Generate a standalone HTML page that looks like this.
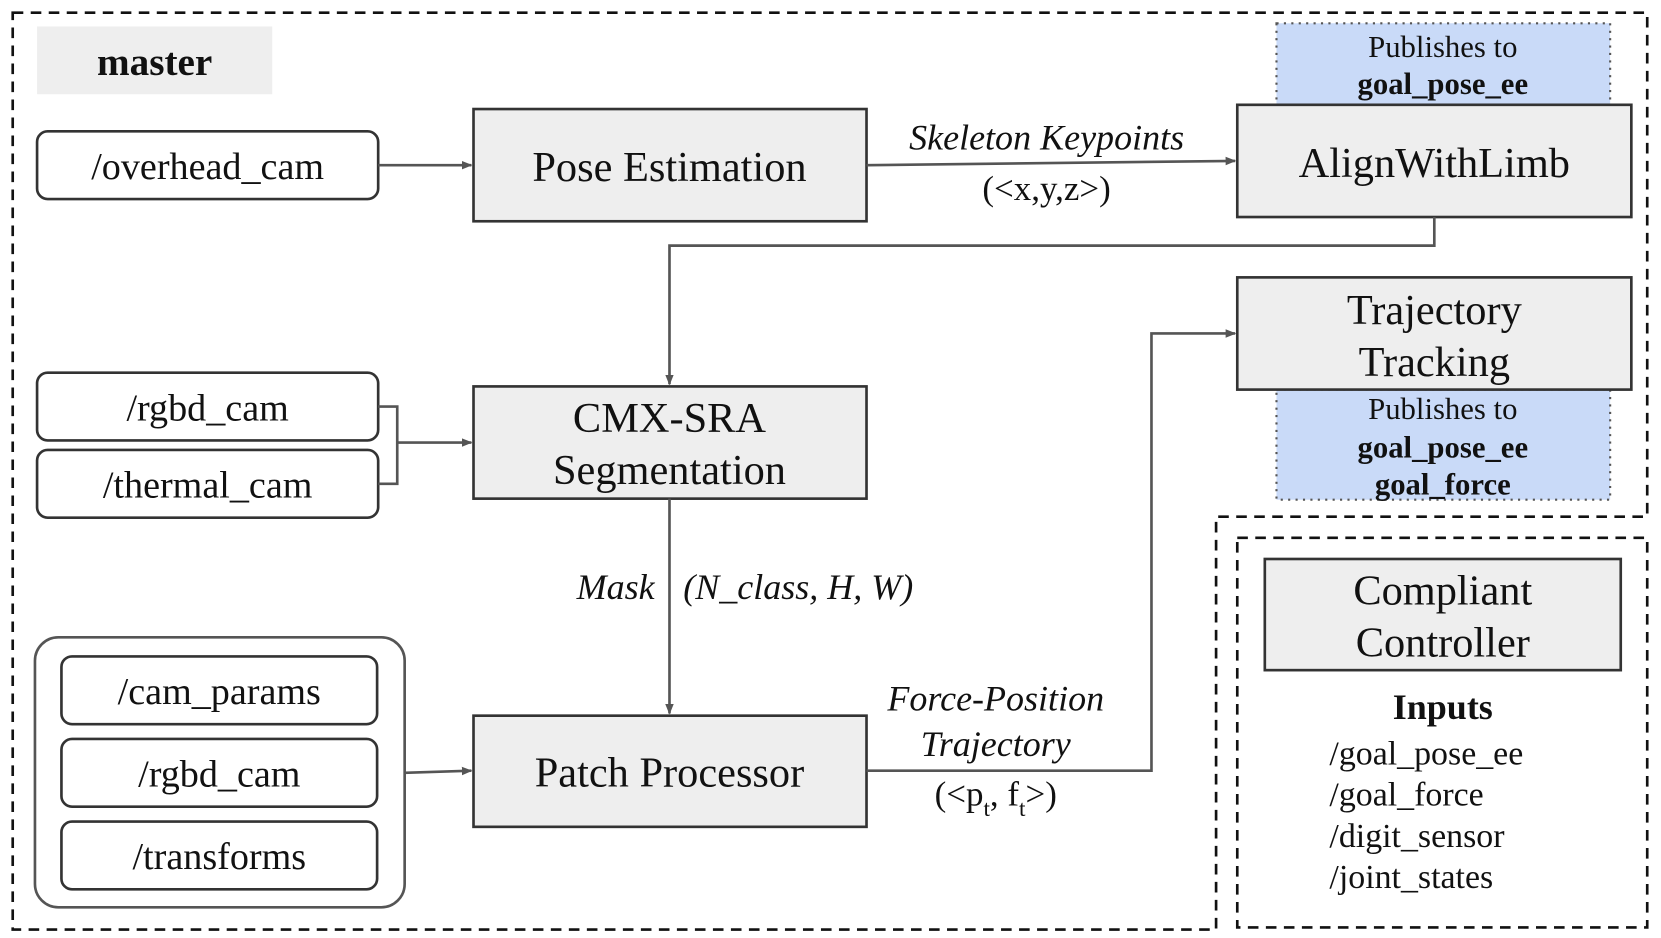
<!DOCTYPE html>
<html><head><meta charset="utf-8"><style>
html,body{margin:0;padding:0;background:#fff;}
svg{display:block;}
text{font-family:"Liberation Serif",serif;fill:#111;}
</style></head><body>
<svg width="1661" height="938" viewBox="0 0 1568 886" preserveAspectRatio="none" xmlns="http://www.w3.org/2000/svg">
<defs>
<marker id="ah" markerWidth="10" markerHeight="10" refX="9" refY="5" orient="auto" markerUnits="userSpaceOnUse">
<path d="M0,1 L10,5 L0,9 Z" fill="#555"/></marker>
</defs>
<path d="M12,12 L1555,12 L1555,488 L1148,488 L1148,878 L12,878 Z" fill="none" stroke="#111" stroke-width="2.5" stroke-dasharray="10,7"/>
<rect x="1168" y="508" width="387" height="368" fill="none" stroke="#111" stroke-width="2.5" stroke-dasharray="10,7"/>
<rect x="35" y="25" width="222" height="64" fill="#eee"/>
<text x="146" y="71" font-size="37" font-weight="bold" text-anchor="middle">master</text>

<rect x="1205" y="22" width="315" height="78" fill="#c9daf8" stroke="#555" stroke-width="2" stroke-dasharray="2,5"/>
<text x="1362" y="54" font-size="29" text-anchor="middle">Publishes to</text>
<text x="1362" y="89" font-size="29" font-weight="bold" text-anchor="middle">goal_pose_ee</text>
<rect x="1205" y="368" width="315" height="104" fill="#c9daf8" stroke="#555" stroke-width="2" stroke-dasharray="2,5"/>
<text x="1362" y="396" font-size="29" text-anchor="middle">Publishes to</text>
<text x="1362" y="432" font-size="29" font-weight="bold" text-anchor="middle">goal_pose_ee</text>
<text x="1362" y="467" font-size="29" font-weight="bold" text-anchor="middle">goal_force</text>

<g fill="#eee" stroke="#333" stroke-width="2.5">
<rect x="447" y="103" width="371" height="106"/>
<rect x="1168" y="99" width="372" height="106"/>
<rect x="447" y="365" width="371" height="106"/>
<rect x="1168" y="262" width="372" height="106"/>
<rect x="447" y="676" width="371" height="105"/>
<rect x="1194" y="528" width="336" height="105"/>
</g>
<g fill="#fff" stroke="#333" stroke-width="2.5">
<rect x="35" y="124" width="322" height="64" rx="10"/>
<rect x="35" y="352" width="322" height="64" rx="10"/>
<rect x="35" y="425" width="322" height="64" rx="10"/>
<rect x="33" y="602" width="349" height="255" rx="22" stroke="#555"/>
<rect x="58" y="620" width="298" height="64" rx="10"/>
<rect x="58" y="698" width="298" height="64" rx="10"/>
<rect x="58" y="776" width="298" height="64" rx="10"/>
</g>

<g font-size="40" text-anchor="middle">
<text x="632" y="171">Pose Estimation</text>
<text x="1354" y="167">AlignWithLimb</text>
<text x="632" y="408">CMX-SRA</text>
<text x="632" y="457">Segmentation</text>
<text x="1354" y="306">Trajectory</text>
<text x="1354" y="355">Tracking</text>
<text x="632" y="743">Patch Processor</text>
<text x="1362" y="571">Compliant</text>
<text x="1362" y="620">Controller</text>
</g>
<g font-size="36" text-anchor="middle">
<text x="196" y="169">/overhead_cam</text>
<text x="196" y="397">/rgbd_cam</text>
<text x="196" y="470">/thermal_cam</text>
<text x="207" y="665">/cam_params</text>
<text x="207" y="743">/rgbd_cam</text>
<text x="207" y="821">/transforms</text>
</g>
<text x="1362" y="679" font-size="34" font-weight="bold" text-anchor="middle">Inputs</text>
<g font-size="32">
<text x="1255" y="722">/goal_pose_ee</text>
<text x="1255" y="761">/goal_force</text>
<text x="1255" y="800">/digit_sensor</text>
<text x="1255" y="839">/joint_states</text>
</g>

<g fill="none" stroke="#555" stroke-width="2.5">
<path d="M357,156 L445,156" marker-end="url(#ah)"/>
<path d="M818,156 L1166,152" marker-end="url(#ah)"/>
<path d="M1354,205 L1354,232 L632,232 L632,363" marker-end="url(#ah)"/>
<path d="M357,384 L375,384 L375,457 L357,457"/>
<path d="M375,418 L445,418" marker-end="url(#ah)"/>
<path d="M632,471 L632,674" marker-end="url(#ah)"/>
<path d="M382,730 L445,728" marker-end="url(#ah)"/>
<path d="M818,728 L1087,728 L1087,315 L1166,315" marker-end="url(#ah)"/>
</g>

<g font-size="34" font-style="italic">
<text x="988" y="141" text-anchor="middle">Skeleton Keypoints</text>
<text x="618" y="566" text-anchor="end">Mask</text>
<text x="645" y="566">(N_class, H, W)</text>
<text x="940" y="671" text-anchor="middle">Force-Position</text>
<text x="940" y="714" text-anchor="middle">Trajectory</text>
</g>
<text x="988" y="189" font-size="33" text-anchor="middle">(&lt;x,y,z&gt;)</text>
<text x="940" y="761" font-size="33" text-anchor="middle">(&lt;p<tspan font-size="22" dy="10">t</tspan><tspan dy="-10">, f</tspan><tspan font-size="22" dy="10">t</tspan><tspan dy="-10">&gt;)</tspan></text>
</svg>
</body></html>
